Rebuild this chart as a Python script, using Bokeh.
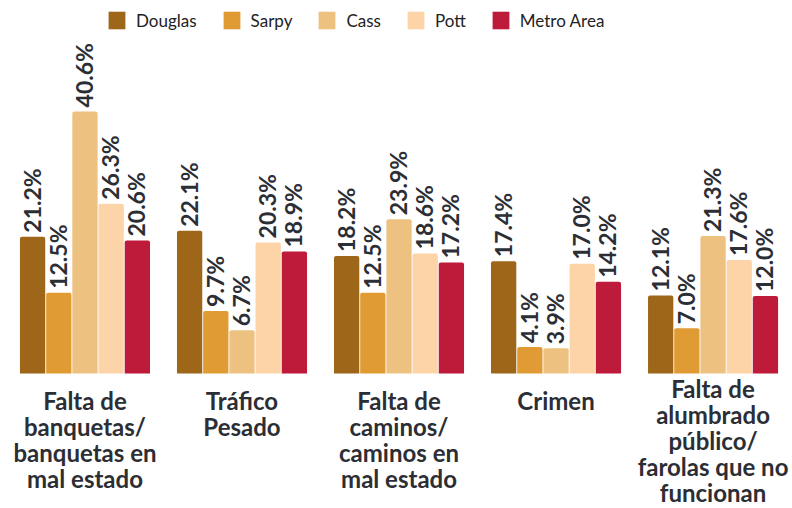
import math
from bokeh.plotting import figure
from bokeh.models import Range1d, Legend, LegendItem, ColumnDataSource
from bokeh.core.properties import value
from bokeh.embed import file_html
from bokeh.resources import INLINE

categories = [
    ["Falta de", "banquetas/", "banquetas en", "mal estado"],
    ["Tráfico", "Pesado"],
    ["Falta de", "caminos/", "caminos en", "mal estado"],
    ["Crimen"],
    ["Falta de", "alumbrado", "público/", "farolas que no", "funcionan"],
]
series_names = ["Douglas", "Sarpy", "Cass", "Pott", "Metro Area"]
douglas = [21.2, 22.1, 18.2, 17.4, 12.1]
sarpy = [12.5, 9.7, 12.5, 4.1, 7.0]
cass = [40.6, 6.7, 23.9, 3.9, 21.3]
pott = [26.3, 20.3, 18.6, 17.0, 17.6]
metro = [20.6, 18.9, 17.2, 14.2, 12.0]
series_values = [douglas, sarpy, cass, pott, metro]
colors = ["#9e6619", "#e09b34", "#edc180", "#fdd4a8", "#be1b3a"]

TEXT = "#2c2e35"
FONT = "Lato"
PX = 6.455            # pixels per percentage point
H = 508
W = 792
BASE = 373            # baseline, px from frame top

p = figure(width=W, height=H, output_backend="svg", toolbar_location=None,
           x_range=Range1d(-0.538, 4.506),
           y_range=Range1d(-(H - BASE) / PX, BASE / PX),
           min_border=0)
p.axis.visible = False
p.grid.visible = False
p.outline_line_color = None

step = 0.1668
bw = 0.161
items = []
for i, (name, vals, col) in enumerate(zip(series_names, series_values, colors)):
    xs = [c + (i - 2) * step for c in range(len(vals))]
    src = ColumnDataSource(dict(x=xs, top=vals,
                                lab=[f"{v:.1f}%" for v in vals],
                                ly=[v + 4 / PX for v in vals]))
    r = p.vbar(x="x", top="top", width=bw, bottom=0, source=src,
               fill_color=col, line_color=None, border_radius=(2, 2, 0, 0))
    p.text(x="x", y="ly", text="lab", source=src, angle=math.pi / 2,
           text_align="left", text_baseline="middle",
           text_font=value(FONT), text_font_style="bold",
           text_font_size="23px", text_color=TEXT, x_offset=-1)
    items.append(LegendItem(label=name, renderers=[r]))

# category labels
lh = 26
lx, ly, lt = [], [], []
for c, lines in enumerate(categories):
    first = min(400, 492 - (len(lines) - 1) * lh)
    for j, t in enumerate(lines):
        lx.append(c)
        ly.append(-(first + j * lh - BASE) / PX)
        lt.append(t)
p.text(x=lx, y=ly, text=lt, text_align="center", text_baseline="alphabetic",
       text_font=value(FONT), text_font_style="bold", text_font_size="24px",
       text_color=TEXT)

legend = Legend(items=items, orientation="horizontal",
                location=(106, H - 9 - 22),
                glyph_width=21, glyph_height=22, label_standoff=9, spacing=24,
                padding=0, margin=0, border_line_color=None,
                background_fill_alpha=0,
                label_text_font=FONT, label_text_font_size="17px",
                label_text_color="#222222", label_height=22)
p.add_layout(legend, "center")

open("out.html", "w").write(file_html(p, INLINE))
